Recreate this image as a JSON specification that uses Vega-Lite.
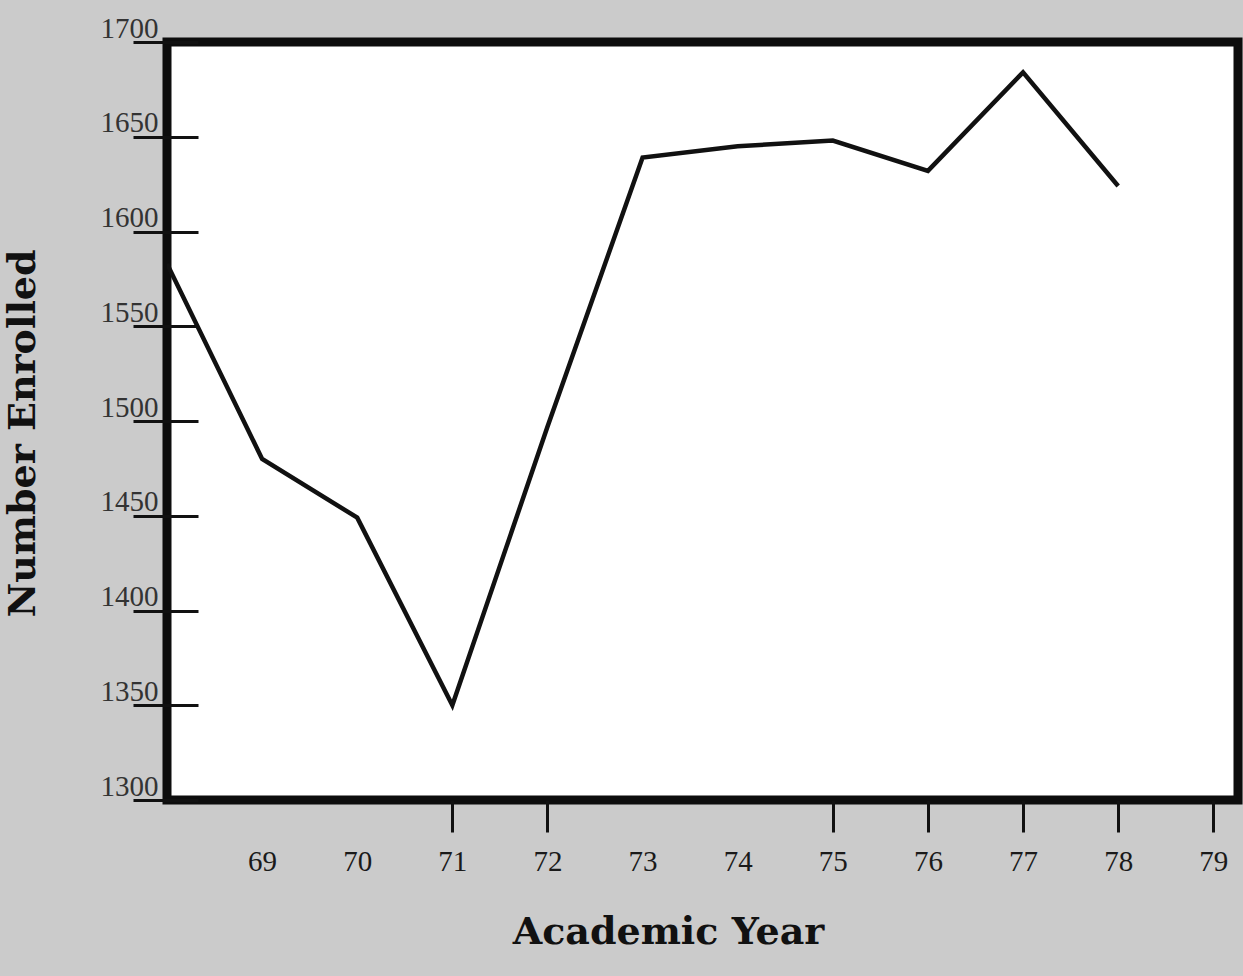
{
  "$schema": "https://vega.github.io/schema/vega-lite/v6.json",
  "autosize": {"type": "none"},
  "padding": {"left": 167, "top": 42, "right": 5, "bottom": 176},
  "width": 1071,
  "height": 758,
  "background": "#cbcbcb",
  "config": {
    "view": {"stroke": "#0d0d0d", "strokeWidth": 9, "fill": "white"}
  },
  "data": {
    "values": [
      {"year": 68, "enrolled": 1583},
      {"year": 69, "enrolled": 1480},
      {"year": 70, "enrolled": 1449},
      {"year": 71, "enrolled": 1350},
      {"year": 72, "enrolled": 1497},
      {"year": 73, "enrolled": 1639},
      {"year": 74, "enrolled": 1645},
      {"year": 75, "enrolled": 1648},
      {"year": 76, "enrolled": 1632},
      {"year": 77, "enrolled": 1684},
      {"year": 78, "enrolled": 1624}
    ]
  },
  "mark": {"type": "line", "stroke": "#111", "strokeWidth": 4.5, "strokeJoin": "miter", "clip": true},
  "encoding": {
    "x": {
      "field": "year",
      "type": "quantitative",
      "scale": {"domain": [68, 79.26], "nice": false, "zero": false},
      "axis": {
        "title": "Academic Year",
        "values": [69, 70, 71, 72, 73, 74, 75, 76, 77, 78, 79],
        "format": "d",
        "domain": false,
        "grid": false,
        "tickSize": 32,
        "tickWidth": 3,
        "tickColor": "#111",
        "tickOpacity": {"condition": {"test": "indexof([71,72,75,76,77,78,79], datum.value) >= 0", "value": 1}, "value": 0},
        "labelFont": "Liberation Serif",
        "labelFontSize": 29,
        "labelColor": "#1a1a1a",
        "labelPadding": 15,
        "labelFlush": false,
        "labelOverlap": false,
        "titleFont": "DejaVu Serif",
        "titleFontWeight": "bold",
        "titleFontSize": 38,
        "titleColor": "#111",
        "titleX": 501,
        "titleY": 143,
        "titleAlign": "center",
        "titleBaseline": "alphabetic"
      }
    },
    "y": {
      "field": "enrolled",
      "type": "quantitative",
      "scale": {"domain": [1300, 1700], "nice": false, "zero": false},
      "axis": {
        "title": "Number Enrolled",
        "values": [1300, 1350, 1400, 1450, 1500, 1550, 1600, 1650, 1700],
        "format": "d",
        "domain": false,
        "grid": false,
        "offset": -31,
        "tickSize": 65,
        "tickWidth": 3,
        "tickColor": "#111",
        "labelFont": "Liberation Serif",
        "labelFontSize": 29,
        "labelColor": "#333",
        "labelAlign": "right",
        "labelBaseline": "alphabetic",
        "labelOffset": -5,
        "labelPadding": -25,
        "labelFlush": false,
        "labelOverlap": false,
        "titleFont": "DejaVu Serif",
        "titleFontWeight": "bold",
        "titleFontSize": 38,
        "titleColor": "#111",
        "titleAngle": 270,
        "titleX": -175,
        "titleY": 391,
        "titleAlign": "center",
        "titleBaseline": "middle"
      }
    }
  }
}
